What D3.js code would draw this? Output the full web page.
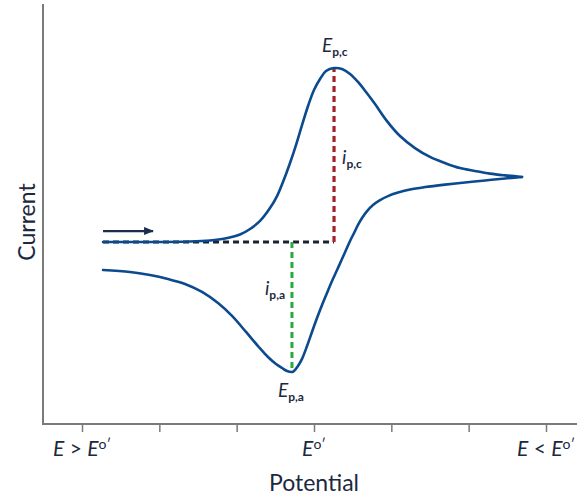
<!DOCTYPE html>
<html>
<head>
<meta charset="utf-8">
<script src="https://cdn.jsdelivr.net/npm/d3@7"></script>
<style>
  html, body { margin: 0; padding: 0; background: #fff; }
  svg { display: block; font-family: Lato, "Open Sans", sans-serif; }
</style>
</head>
<body>
<svg id="chart" width="577" height="496"></svg>
<script>
// Cyclic voltammogram: potential offset (E − E°′, arbitrary units) vs current (normalised to i_p,c)
const forwardPotential = [2.728, 2.121, 1.603, 1.345, 1.151, 0.957, 0.827, 0.698, 0.569, 0.478, 0.401, 0.310, 0.233, 0.155, 0.077, 0.000, -0.078, -0.155, -0.259, -0.362, -0.466, -0.569, -0.673, -0.789, -0.944, -1.112, -1.306, -1.500, -1.694, -1.888, -2.082, -2.276, -2.470, -2.690];
const forwardCurrent   = [0, 0, 0.003, 0.009, 0.020, 0.043, 0.075, 0.121, 0.195, 0.264, 0.345, 0.454, 0.557, 0.672, 0.782, 0.874, 0.937, 0.983, 1.0, 0.994, 0.966, 0.920, 0.862, 0.793, 0.695, 0.609, 0.540, 0.489, 0.454, 0.425, 0.408, 0.393, 0.383, 0.374];

const reversePotential = [-2.690, -2.470, -2.212, -1.953, -1.694, -1.436, -1.242, -1.087, -0.957, -0.854, -0.763, -0.686, -0.621, -0.569, -0.518, -0.466, -0.414, -0.362, -0.298, -0.233, -0.168, -0.104, -0.039, 0.026, 0.090, 0.155, 0.207, 0.258, 0.285, 0.349, 0.414, 0.491, 0.595, 0.724, 0.879, 1.060, 1.241, 1.448, 1.668, 1.888, 2.121, 2.379, 2.728];
const reverseCurrent   = [0.374, 0.365, 0.354, 0.342, 0.330, 0.316, 0.302, 0.284, 0.264, 0.241, 0.213, 0.178, 0.138, 0.098, 0.052, 0.006, -0.046, -0.098, -0.161, -0.224, -0.293, -0.362, -0.437, -0.517, -0.598, -0.672, -0.713, -0.741, -0.747, -0.741, -0.724, -0.701, -0.661, -0.598, -0.517, -0.425, -0.351, -0.287, -0.241, -0.213, -0.190, -0.172, -0.161];

// Peak positions
const cathodicPeak = { potential: -0.259, current: 1.0 };
const anodicPeak   = { potential: 0.285, current: -0.747 };

// Axis ticks and labels
const tickValues = [3, 2, 1, 0, -1, -2, -3];
const tickLabels = { "3": ["E", " > ", "E", "o′"], "0": ["E", "o′"], "-3": ["E", " < ", "E", "o′"] };
const xTitle = "Potential";
const yTitle = "Current";

const svg = d3.select("#chart");
const axisColor = "#7a7a7a";
const textColor = "#1c2840";
const curveColor = "#0c4a8e";

const x = d3.scaleLinear().domain([3, -3]).range([82, 546]);
const y = d3.scaleLinear().domain([-1.046, 1.368]).range([424, 4]);

// Axes
const xAxis = d3.axisBottom(x).tickValues(tickValues).tickSize(8).tickFormat("");
const gx = svg.append("g").attr("transform", "translate(0,424)").call(xAxis);
gx.select(".domain").remove();
gx.selectAll(".tick line").attr("stroke", axisColor).attr("stroke-width", 1.5);

svg.append("line").attr("x1", 43).attr("x2", 577).attr("y1", 424).attr("y2", 424)
  .attr("stroke", axisColor).attr("stroke-width", 2);
svg.append("line").attr("x1", 43).attr("x2", 43).attr("y1", 4).attr("y2", 425)
  .attr("stroke", axisColor).attr("stroke-width", 2);

// Tick labels with italic E and raised o′
function writeLabel(textSel, parts) {
  parts.forEach(p => {
    const t = textSel.append("tspan").text(p);
    if (p === "E") t.attr("font-style", "italic");
    if (p === "o′") t.attr("font-size", 14).attr("dy", -7);
  });
}
Object.entries(tickLabels).forEach(([v, parts]) => {
  const t = svg.append("text")
    .attr("x", x(+v))
    .attr("y", 456)
    .attr("text-anchor", "middle")
    .attr("font-size", 21)
    .attr("fill", textColor);
  writeLabel(t, parts);
});

svg.append("text").attr("x", x(0)).attr("y", 491).attr("text-anchor", "middle")
  .attr("font-size", 23).attr("fill", textColor).text(xTitle);
svg.append("text").attr("transform", "translate(35,222) rotate(-90)")
  .attr("text-anchor", "middle").attr("font-size", 23).attr("fill", textColor).text(yTitle);

// Baseline and peak markers
svg.append("line")
  .attr("x1", x(forwardPotential[0])).attr("x2", x(cathodicPeak.potential))
  .attr("y1", y(0)).attr("y2", y(0))
  .attr("stroke", "#1a2130").attr("stroke-width", 3).attr("stroke-dasharray", "6,4");
svg.append("line")
  .attr("x1", x(cathodicPeak.potential)).attr("x2", x(cathodicPeak.potential))
  .attr("y1", y(0)).attr("y2", y(cathodicPeak.current))
  .attr("stroke", "#a3222b").attr("stroke-width", 3.2).attr("stroke-dasharray", "6,4");
svg.append("line")
  .attr("x1", x(anodicPeak.potential)).attr("x2", x(anodicPeak.potential))
  .attr("y1", y(0)).attr("y2", y(anodicPeak.current))
  .attr("stroke", "#2aaa3c").attr("stroke-width", 3).attr("stroke-dasharray", "6,4");

// Voltammogram branches
const line = d3.line().x(d => x(d[0])).y(d => y(d[1])).curve(d3.curveCatmullRom.alpha(0.5));
const forward = forwardPotential.map((p, i) => [p, forwardCurrent[i]]);
const reverse = reversePotential.map((p, i) => [p, reverseCurrent[i]]);
[forward, reverse].forEach(data => {
  svg.append("path").datum(data).attr("d", line)
    .attr("fill", "none").attr("stroke", curveColor).attr("stroke-width", 2.6)
    .attr("stroke-linecap", "round");
});

// Scan direction arrow
svg.append("defs").append("marker")
  .attr("id", "arrowhead").attr("viewBox", "0 0 10 10").attr("refX", 9).attr("refY", 5)
  .attr("markerWidth", 4.5).attr("markerHeight", 4.5).attr("orient", "auto")
  .append("path").attr("d", "M0,1 L10,5 L0,9 Z").attr("fill", "#1a2d4a");
svg.append("line")
  .attr("x1", x(forwardPotential[0])).attr("x2", x(2.082))
  .attr("y1", y(0.063)).attr("y2", y(0.063))
  .attr("stroke", "#1a2d4a").attr("stroke-width", 2.2)
  .attr("marker-end", "url(#arrowhead)");

// Peak labels
function peakLabel(px, py, main, sub) {
  const t = svg.append("text").attr("x", px).attr("y", py).attr("fill", textColor);
  t.append("tspan").attr("font-size", 19).attr("font-style", "italic").text(main);
  t.append("tspan").attr("font-size", 12).attr("font-weight", "bold").attr("dy", 4).text(sub);
}
peakLabel(x(cathodicPeak.potential) - 12, 52, "E", "p,c");
peakLabel(x(cathodicPeak.potential) + 8, 164, "i", "p,c");
peakLabel(x(anodicPeak.potential) - 27, 295, "i", "p,a");
peakLabel(x(anodicPeak.potential) - 14, 397, "E", "p,a");
</script>
</body>
</html>
